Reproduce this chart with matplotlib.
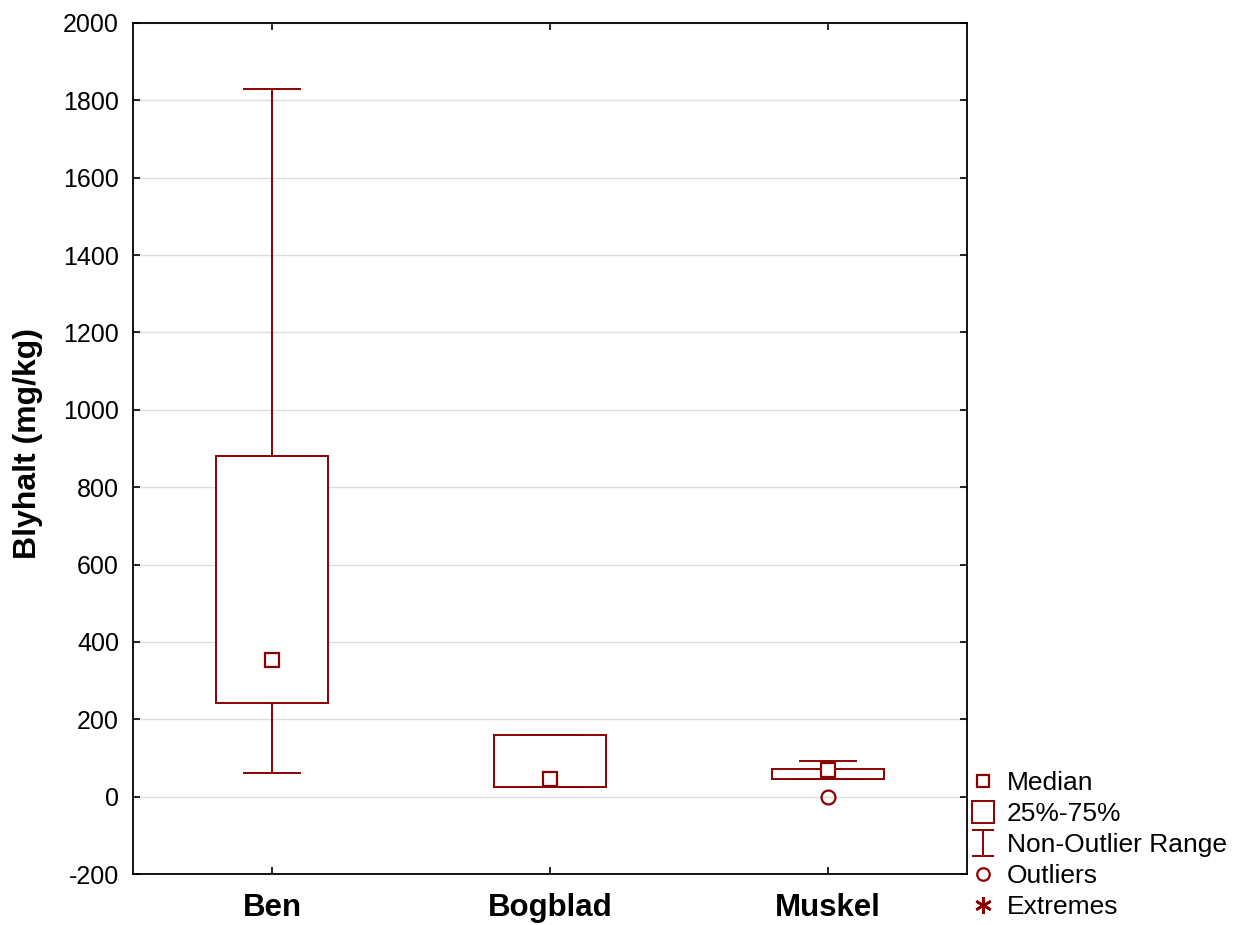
import matplotlib
matplotlib.use("Agg")
import matplotlib.pyplot as plt
from matplotlib.lines import Line2D
from matplotlib.path import Path
import numpy as np

plt.rcParams['font.family'] = ['Liberation Sans', 'DejaVu Sans']

categories = ["Ben", "Bogblad", "Muskel"]
medians = [353, 46, 69]
q1 = [242, 25, 46]
q3 = [880, 160, 71]
whisk_lo = [61, 25, 46]
whisk_hi = [1829, 160, 92]
outliers = [[], [], [0]]
extremes = [[], [], []]
yticks = list(range(-200, 2001, 200))

color = "#8B0000"

fig = plt.figure(figsize=(12.42, 9.25), dpi=100)
ax = fig.add_axes([133/1242, 1-874/925, (967-133)/1242, (874-23)/925])

bw = 0.4
cw = 0.2
lw = 1.4
for i, c in enumerate(categories):
    x = i + 1
    # whiskers
    ax.plot([x, x], [q3[i], whisk_hi[i]], color=color, lw=lw, zorder=3)
    ax.plot([x, x], [whisk_lo[i], q1[i]], color=color, lw=lw, zorder=3)
    ax.plot([x - cw/2, x + cw/2], [whisk_hi[i]]*2, color=color, lw=lw, zorder=3)
    ax.plot([x - cw/2, x + cw/2], [whisk_lo[i]]*2, color=color, lw=lw, zorder=3)
    # box
    ax.add_patch(plt.Rectangle((x - bw/2, q1[i]), bw, q3[i]-q1[i], fill=True,
                               facecolor='white', edgecolor=color, lw=lw, zorder=4))
    # median
    ax.plot([x], [medians[i]], marker='s', ms=9.5, mfc='white', mec=color, mew=1.6,
            ls='none', zorder=5)
    if outliers[i]:
        ax.plot([x]*len(outliers[i]), outliers[i], marker='o', ms=10, mfc='none',
                mec=color, mew=1.6, ls='none', zorder=5)
    if extremes[i]:
        ax.plot([x]*len(extremes[i]), extremes[i], marker=(6, 2, 0), ms=12,
                color=color, mew=1.8, ls='none', zorder=5)

ax.set_xlim(0.5, 3.5)
ax.set_ylim(-200, 2000)
ax.set_yticks(yticks)
ax.set_yticklabels([str(v) for v in yticks], fontsize=18)
ax.set_xticks([1, 2, 3])
ax.set_xticklabels(categories, fontsize=22.5, fontweight='bold')
ax.tick_params(direction='in', top=True, right=True, length=5, width=1.2)
ax.tick_params(axis='y', pad=10)
ax.tick_params(axis='x', pad=14)
ax.yaxis.grid(True, color='#dddddd', lw=1)
ax.set_axisbelow(True)
for s in ax.spines.values():
    s.set_linewidth(1.3)
ax.set_ylabel("Blyhalt (mg/kg)", fontsize=23, fontweight='bold')
ax.yaxis.set_label_coords(-(133-43)/834, (874-443.5)/851)

# I-beam marker
ibeam = Path([(-0.85, 1), (0.85, 1), (0, 1), (0, -1), (-0.85, -1), (0.85, -1)],
             [Path.MOVETO, Path.LINETO, Path.MOVETO, Path.LINETO, Path.MOVETO, Path.LINETO])
handles = [
    Line2D([], [], marker='s', ms=9, mfc='none', mec=color, mew=1.6, ls='none'),
    Line2D([], [], marker='s', ms=16, mfc='none', mec=color, mew=1.4, ls='none'),
    Line2D([], [], marker=ibeam, ms=19, color=color, mew=1.4, ls='none'),
    Line2D([], [], marker='o', ms=9, mfc='none', mec=color, mew=1.6, ls='none'),
    Line2D([], [], marker=(6, 2, 0), ms=12, color=color, mew=1.9, ls='none'),
]
labels = ["Median", "25%-75%", "Non-Outlier Range", "Outliers", "Extremes"]
fig.legend(handles, labels, loc='upper left', bbox_to_anchor=(970/1242, 1-771/925),
           frameon=False, fontsize=19, handlelength=1.0, handletextpad=0.4,
           labelspacing=0.27, borderaxespad=0, borderpad=0)

fig.savefig("out.png", dpi=100)
